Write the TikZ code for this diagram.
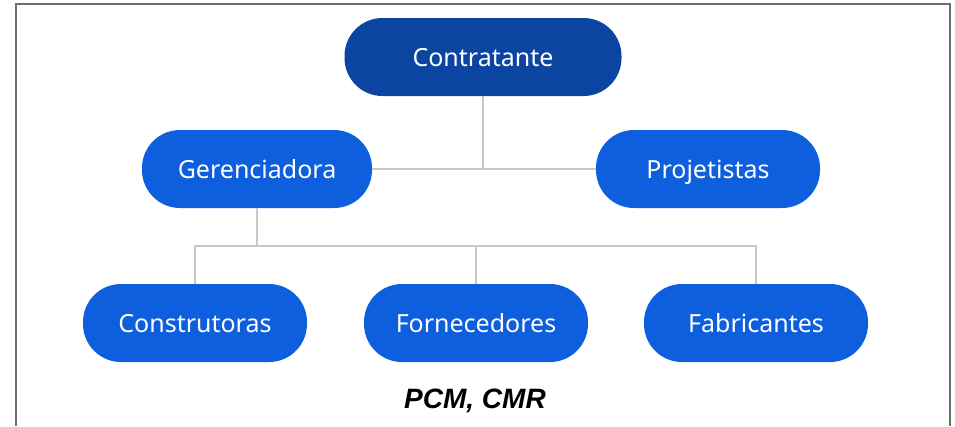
\documentclass[tikz,border=0pt]{standalone}
\usepackage{fontspec}
\setmainfont{Noto Sans}
\newfontfamily\labelfont{Liberation Sans}
\usepackage{tikz}

\definecolor{topblue}{HTML}{0B44A1}
\definecolor{boxblue}{HTML}{0E5FDD}
\definecolor{linkgray}{HTML}{C8C8C8}
\definecolor{framegray}{HTML}{6E6E6E}

\tikzset{
  pill/.style={rectangle, rounded corners=38pt, fill=boxblue, text=white,
    minimum height=78pt, minimum width=224pt, inner sep=0pt,
    text height=18pt, text depth=0pt,
    font=\fontsize{25}{30}\selectfont},
  link/.style={draw=linkgray, line width=2pt},
}

\begin{document}
\begin{tikzpicture}[x=1pt, y=-1pt]
		\useasboundingbox (0, 0) rectangle (955, 426);
\draw[framegray, line width=2.5pt] (16, 426) -- (16, 4) -- (950, 4) -- (950, 426); % frame 
\node[pill, fill=topblue, minimum width=277pt] (contratante) at (483, 57) {Contratante}; % level 0 
\node[pill, minimum width=230pt] (gerenciadora) at (257, 169) {Gerenciadora}; % level 1 
\node[pill] (projetistas) at (708, 169) {Projetistas}; % level 1 
\node[pill] (construtoras) at (195, 323) {Construtoras}; % level 2 
\node[pill] (fornecedores) at (476, 323) {Fornecedores}; % level 2 
\node[pill] (fabricantes) at (756, 323) {Fabricantes}; % level 2 
\coordinate (tee) at (contratante.south |- gerenciadora.east); % junction 
\coordinate (bus) at (257, 246); % junction 
\draw[link] (gerenciadora.east) -- (projetistas.west) ; % level 1 bar 
\draw[link] (contratante.south) -- (tee) ; % level 1 bar 
\draw[link] (gerenciadora.south) -- (bus) ; % level 2 bar 
\draw[link] (construtoras.north) -- (construtoras.north |- bus) -- (fabricantes.north |- bus) -- (fabricantes.north) ; % level 2 bar 
\draw[link] (fornecedores.north) -- (fornecedores.north |- bus) ; % level 2 bar 

		\node[font=\labelfont\bfseries\itshape\fontsize{28}{32}\selectfont] (models) at (475, 401) {PCM, CMR};
		\end{tikzpicture}
\end{document}
